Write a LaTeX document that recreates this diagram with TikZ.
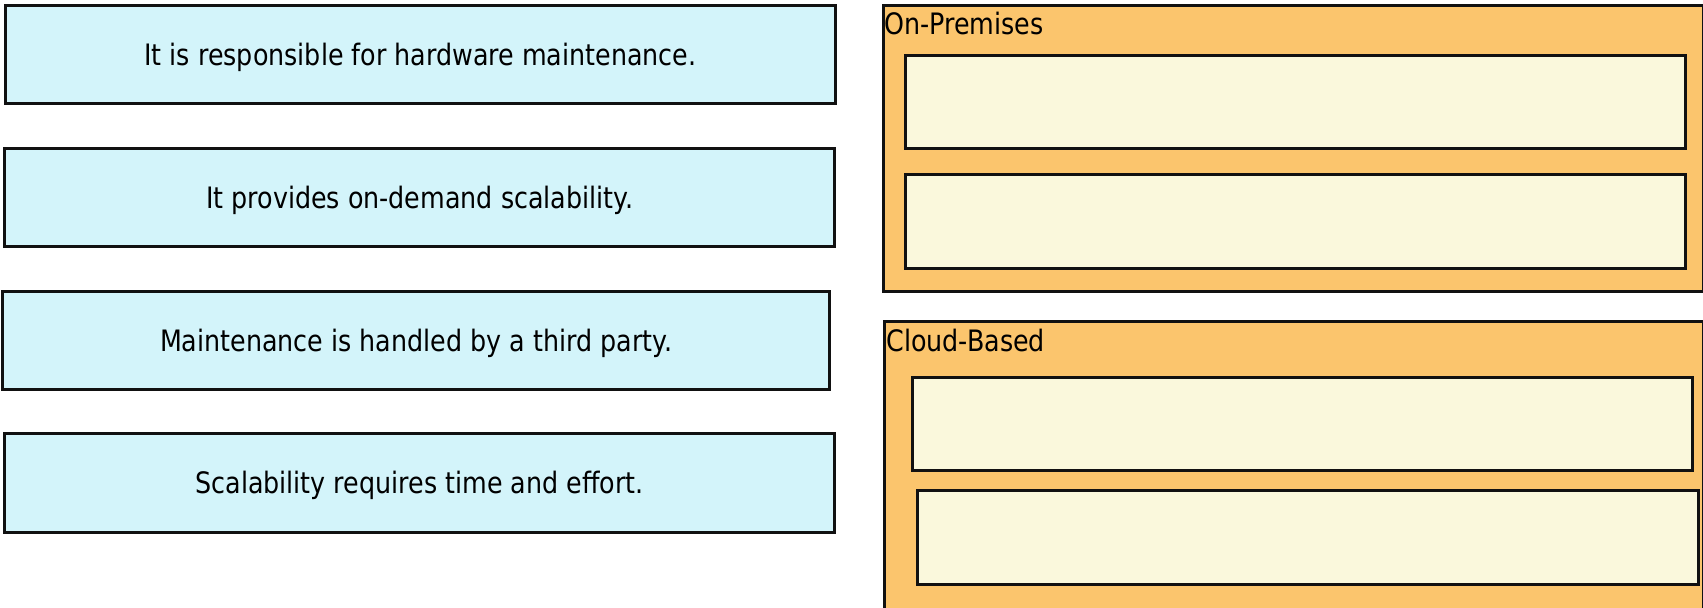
\documentclass[tikz,border=0pt]{standalone}
\usepackage{fontspec}
\setmainfont{DejaVu Sans}[FakeStretch=0.86]
\definecolor{cyanfill}{HTML}{D3F4FA}
\definecolor{orangefill}{HTML}{FBC56D}
\definecolor{creamfill}{HTML}{FAF8DC}
\definecolor{edge}{HTML}{111111}
\tikzset{
  leftbox/.style={draw=edge, line width=1.5pt, fill=cyanfill, rectangle, anchor=north west,
    inner sep=0pt, text height=10.75pt, text depth=0pt, font=\fontsize{14.75pt}{17pt}\selectfont},
  groupbox/.style={draw=edge, line width=1.5pt, fill=orangefill, rectangle, anchor=north west, inner sep=0pt},
  slotbox/.style={draw=edge, line width=1.5pt, fill=creamfill, rectangle, anchor=north west, inner sep=0pt},
  grouptitle/.style={anchor=base west, inner sep=0pt, font=\fontsize{14.75pt}{17pt}\selectfont}
}
\begin{document}
\begin{tikzpicture}[x=0.5pt, y=-0.5pt]
\useasboundingbox (0,0) rectangle (1703,608);
\clip (0,0) rectangle (1703,608);
\node[leftbox, minimum width=415pt, minimum height=49pt] (b1) at (4,4) {It is responsible for hardware maintenance.};
\node[leftbox, minimum width=415pt, minimum height=49pt] (b2) at (3,147) {It provides on-demand scalability.};
\node[leftbox, minimum width=413.5pt, minimum height=49pt] (b3) at (1,290) {Maintenance is handled by a third party.};
\node[leftbox, minimum width=415pt, minimum height=49.5pt] (b4) at (3,432) {Scalability requires time and effort.};

\node[groupbox, minimum width=410pt, minimum height=143pt] (o1) at (882,4) {};
\node[groupbox, minimum width=409.5pt, minimum height=145pt] (o2) at (883,320) {};
\node[grouptitle] (t1) at (884,35) {On-Premises};
\node[grouptitle] (t2) at (886,352) {Cloud-Based};

\node[slotbox, minimum width=390pt, minimum height=46.5pt] (i1) at (904,54) {};
\node[slotbox, minimum width=390pt, minimum height=47pt] (i2) at (904,173) {};
\node[slotbox, minimum width=390pt, minimum height=46.5pt] (i3) at (911,376) {};
\node[slotbox, minimum width=390.5pt, minimum height=47pt] (i4) at (916,489) {};
\end{tikzpicture}
\end{document}
